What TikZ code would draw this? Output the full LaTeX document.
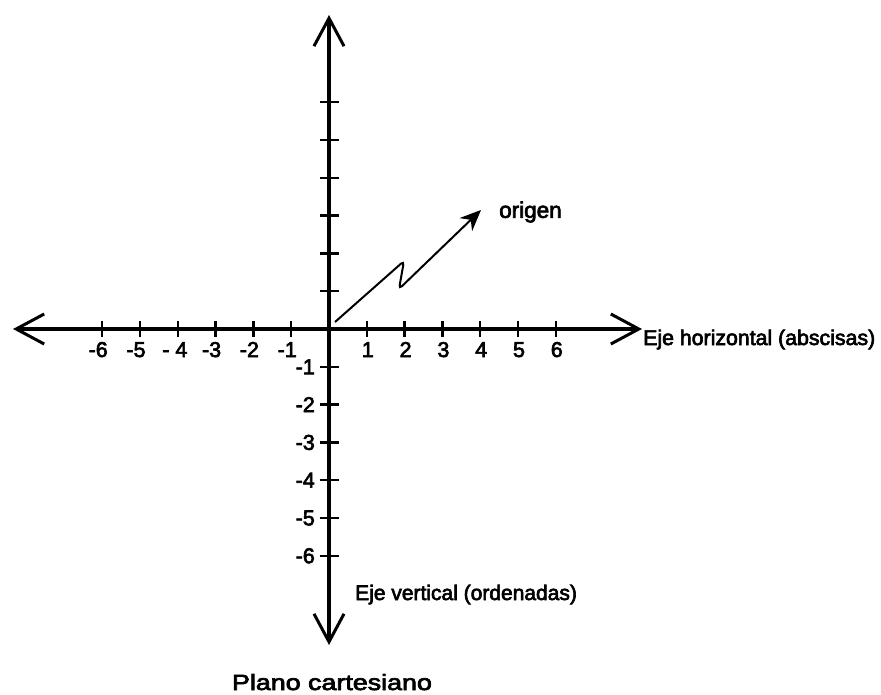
\documentclass[tikz,border=0pt]{standalone}
\usepackage{fontspec}
\setmainfont{Liberation Sans}
\newfontfamily\inkfont[FakeBold=3]{Liberation Sans}
\usetikzlibrary{arrows.meta}
\begin{document}
\begin{tikzpicture}[x=1pt,y=-1pt,
  axisline/.style={line width=3.5pt,{Straight Barb[length=28pt,width=30pt,line width=3pt]}-{Straight Barb[length=28pt,width=30pt,line width=3pt]}},
  tickmark/.style={line width=2.5pt},
  ticklabel/.style={font=\inkfont\fontsize{21.5}{24}\selectfont,inner sep=0pt},
  lbl/.style={font=\inkfont\fontsize{21}{24}\selectfont,inner sep=0pt},
  pointer/.style={line width=2pt,rounded corners=4pt,-{Stealth[length=21pt,width=18pt]}}]
\useasboundingbox (0,0) rectangle (881,694);
% axes
\coordinate (L) at (13,329);
\coordinate (R) at (642,329);
\coordinate (T) at (329,15);
\coordinate (B) at (329,645);
\draw[axisline] (L) -- (R);
\draw[axisline] (T) -- (B);
% ticks
\foreach \k in {-6,-5,-4,-3,-2,-1,1,2,3,4,5,6}{
  \draw[tickmark] ({329+37.8*\k},321) -- ({329+37.8*\k},337);
  \draw[tickmark] (319.5,{329+37.8*\k}) -- (338.5,{329+37.8*\k});
}
% x labels
\foreach \k/\t in {-6/-6,-5/-5,-3/-3,-2/-2,-1/-1}{
  \node[ticklabel,anchor=base] (xl\k) at ({329+37.8*\k-4},357) {\t};
}
\node[ticklabel,anchor=base] (xlm4) at ({329-37.8*4-3},357) {- 4};
\foreach \k in {1,2,3,4,5,6}{
  \node[ticklabel,anchor=base] (xl\k) at ({329+37.8*\k+1},357) {\k};
}
% y labels
\foreach \k in {1,2,3,4,5,6}{
  \node[ticklabel,anchor=east] (yl\k) at (315,{329+37.8*\k}) {-\k};
}
% origin pointer
\coordinate (o1) at (335,322);
\coordinate (z1) at (404,261);
\coordinate (z2) at (399,289);
\coordinate (o2) at (481,210);
\draw[pointer] (o1) -- (z1) -- (z2) -- (o2);
\node[lbl,font=\inkfont\fontsize{22.5}{26}\selectfont,anchor=west] (origen) at (499,212) {origen};
% axis names
\node[lbl,font=\inkfont\fontsize{21.3}{24}\selectfont,anchor=base west] (hname) at (643,345) {Eje horizontal (abscisas)};
\node[lbl,anchor=base west] (vname) at (355,600) {Eje vertical (ordenadas)};
\node[lbl,font=\inkfont\fontsize{22}{26}\selectfont,anchor=base] (title) at (332,690) {\scalebox{1.22}[1]{Plano cartesiano}};
\end{tikzpicture}
\end{document}
